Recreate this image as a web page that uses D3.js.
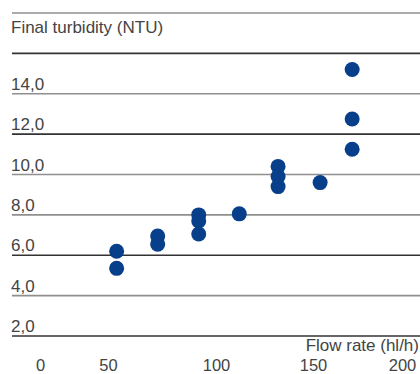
<!DOCTYPE html>
<html>
<head>
<meta charset="utf-8">
<script src="https://cdn.jsdelivr.net/npm/d3@7"></script>
<style>
  html, body { margin: 0; padding: 0; background: #fff; }
  svg { display: block; }
  text { font-family: "Liberation Sans", Arial, sans-serif; fill: #444; }
</style>
</head>
<body>
<svg id="chart" width="420" height="374"></svg>
<script>
// ---- data ----
const flowRate  = [54, 54, 73, 73, 92, 92, 92, 112, 132, 132, 132, 154, 172, 172, 172];
const turbidity = [6.2, 5.35, 6.95, 6.55, 8.0, 7.7, 7.05, 8.05, 10.4, 9.9, 9.4, 9.6, 15.2, 12.75, 11.25];
const xTicks = [0, 50, 100, 150, 200];
const yTicks = [2, 4, 6, 8, 10, 12, 14];
const gridValues = [2, 4, 6, 8, 10, 12, 14, 16, 18];
const darkGrid = [2, 6, 12, 16];
const yTitle = "Final turbidity (NTU)";
const xTitle = "Flow rate (hl/h)";

const svg = d3.select("#chart");
const W = 420;
const FS = 17;

// scales (x tick positions in the source are spaced irregularly)
const x = d3.scaleLinear().domain([0, 50, 100, 150, 200]).range([40, 108, 216, 313, 402]);
const y = d3.scaleLinear().domain([2, 18]).range([336, 13]);

// grid lines
svg.append("g").selectAll("line").data(gridValues).join("line")
  .attr("x1", 12).attr("x2", W)
  .attr("y1", d => y(d)).attr("y2", d => y(d))
  .attr("stroke", d => darkGrid.includes(d) ? "#333" : "#8f8f8f")
  .attr("stroke-width", 1.6);

// y tick labels
svg.append("g").selectAll("text").data(yTicks).join("text")
  .attr("x", 11).attr("y", d => y(d) - 4)
  .attr("font-size", FS)
  .text(d => d3.format(".1f")(d).replace(".", ","));

// y title
svg.append("text").attr("x", 11).attr("y", 33).attr("font-size", FS).text(yTitle);

// x axis labels
const xAxis = d3.axisBottom(x).tickValues(xTicks).tickSize(0).tickPadding(0).tickFormat(d3.format("d"));
const gx = svg.append("g").attr("transform", "translate(0,370.5)").call(xAxis);
gx.select(".domain").remove();
gx.selectAll("text").attr("font-size", 16.5).attr("dy", 0).attr("y", 0)
  .style("font-family", "'Liberation Sans', Arial, sans-serif").attr("fill", "#444");

// x title
svg.append("text").attr("x", 419).attr("y", 351).attr("text-anchor", "end")
  .attr("font-size", FS).text(xTitle);

// points
svg.append("g").selectAll("circle").data(flowRate).join("circle")
  .attr("cx", d => x(d))
  .attr("cy", (d, i) => y(turbidity[i]))
  .attr("r", 7.5)
  .attr("fill", "#073f8a");
</script>
</body>
</html>
